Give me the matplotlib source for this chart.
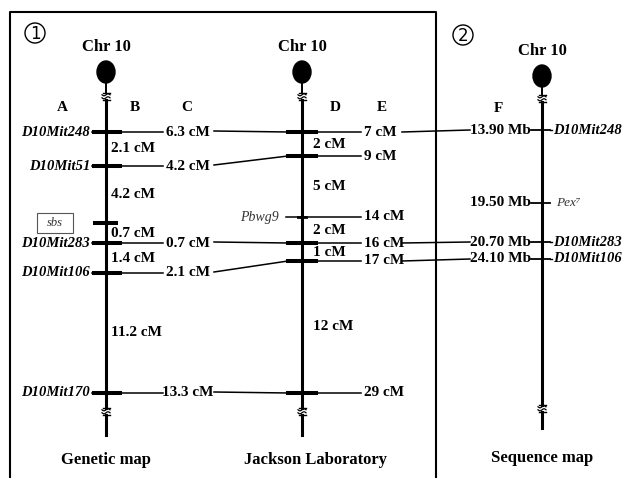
import matplotlib.pyplot as plt
from matplotlib.patches import Ellipse, Circle, Rectangle
import numpy as np

# genetic map (A = marker, B = interval, C = distance used for Jackson link)
genetic_markers = ["D10Mit248", "D10Mit51", "sbs", "D10Mit283", "D10Mit106", "D10Mit170"]
genetic_intervals = [2.1, 4.2, 0.7, 1.4, 11.2]
genetic_link_cm = [6.3, 4.2, None, 0.7, 2.1, 13.3]

# Jackson Laboratory map (D = interval, E = position)
jax_markers = ["D10Mit248", "D10Mit51", "Pbwg9", "D10Mit283", "D10Mit106", "D10Mit170"]
jax_cm = [7, 9, 14, 16, 17, 29]

# sequence map (F = position)
seq_markers = ["D10Mit248", "Pex⁷", "D10Mit283", "D10Mit106"]
seq_mb = [13.90, 19.50, 20.70, 24.10]

# schematic layout (pixel rows / columns)
genetic_rows = [132, 166, 223, 243, 273, 393]
jax_rows = [132, 156, 217, 243, 261, 393]
seq_rows = [130, 203, 242, 259]
x_gen, x_jax, x_seq = 106, 302, 542

FONT = ["Liberation Serif", "DejaVu Serif"]
plt.rcParams["font.family"] = FONT

fig = plt.figure(figsize=(6.24, 4.78), dpi=100)
ax = fig.add_axes([0, 0, 1, 1])
ax.set_xlim(0, 624)
ax.set_ylim(478, 0)
ax.axis("off")

LW_CHR = 2.2
LW_TICK = 2.9
LW_LINK = 1.1


def draw_break(x, y):
    t = np.linspace(-4, 4, 30)
    ax.plot([x - 3.5, x + 3.5], [y - 3.5, y - 3.5], color="k", lw=1.0)
    for dy in (-1.2, 1.8):
        ax.plot(x + t, y + dy - 1.0 * np.sin(t * np.pi / 4), color="k", lw=0.9)
    ax.plot([x - 3.5, x + 3.5], [y + 4, y + 4], color="k", lw=1.0)


def draw_chromosome(x, top, brk1, brk2, end, title, label, label_y):
    ax.add_patch(Ellipse((x, top), 18, 22, color="k"))
    ax.plot([x, x], [top, brk1 - 3.5], color="k", lw=1.4)
    draw_break(x, brk1)
    ax.plot([x, x], [brk1 + 4, brk2 - 3.5], color="k", lw=LW_CHR)
    draw_break(x, brk2)
    ax.plot([x, x], [brk2 + 4, end], color="k", lw=LW_CHR)
    ax.text(x, top - 25, title, ha="center", va="center", fontsize=12, fontweight="bold")
    ax.text(x + (14 if label.startswith("Jackson") else 0), label_y, label,
            ha="center", va="center", fontsize=12, fontweight="bold")


# frame around panel 1
ax.plot([10, 10, 436, 436], [478, 12, 12, 478], color="k", lw=1.5)
for cx, cy, num in [(35, 33, "1"), (463, 35, "2")]:
    ax.add_patch(Circle((cx, cy), 10, fill=False, lw=1.0, color="k"))
    ax.text(cx, cy + 0.5, num, ha="center", va="center", fontsize=12, family=["DejaVu Sans"])

draw_chromosome(x_gen, 72, 96, 411, 435, "Chr 10", "Genetic map", 460)
draw_chromosome(x_jax, 72, 96, 411, 435, "Chr 10", "Jackson Laboratory", 460)
draw_chromosome(x_seq, 76, 98, 408, 428, "Chr 10", "Sequence map", 458)

# column headers
for x, y, s in [(62, 107, "A"), (135, 107, "B"), (187, 107, "C"),
                (335, 107, "D"), (382, 107, "E"), (498, 108, "F")]:
    ax.text(x, y, s, ha="center", va="center", fontsize=11, fontweight="bold")

# genetic map markers
for name, y, link in zip(genetic_markers, genetic_rows, genetic_link_cm):
    if name == "sbs":
        ax.add_patch(Rectangle((37, y - 10), 36, 20, fill=False, lw=0.8, color="#555"))
        ax.text(55, y, name, ha="center", va="center", fontsize=9, style="italic", color="#333")
        ax.plot([x_gen - 11, x_gen + 10], [y, y], color="k", lw=LW_TICK)
        continue
    ax.text(90, y, name, ha="right", va="center", fontsize=10.5, fontweight="bold", style="italic")
    ax.plot([92, x_gen - 12], [y, y], color="k", lw=LW_LINK)
    ax.plot([x_gen - 12, x_gen + 14], [y, y], color="k", lw=LW_TICK)
    ax.plot([x_gen + 14, 163], [y, y], color="k", lw=LW_LINK)
    ax.text(188, y, f"{link} cM", ha="center", va="center", fontsize=11, fontweight="bold")
    j = jax_markers.index(name)
    ax.plot([214, x_jax - 14], [y - 1, jax_rows[j]], color="k", lw=LW_LINK)

for a, b, v in zip(genetic_rows[:-1], genetic_rows[1:], genetic_intervals):
    ax.text(111, (a + b) / 2, f"{v} cM", ha="left", va="center", fontsize=11, fontweight="bold")

# Jackson markers
for name, y, cm in zip(jax_markers, jax_rows, jax_cm):
    if name == "Pbwg9":
        ax.text(279, y, name, ha="right", va="center", fontsize=10, style="italic", color="#333")
        ax.plot([286, 361], [y, y], color="k", lw=LW_LINK)
        ax.plot([x_jax - 4, x_jax + 4], [y, y], color="k", lw=2.0)
    else:
        ax.plot([x_jax - 14, x_jax + 14], [y, y], color="k", lw=LW_TICK)
        ax.plot([x_jax + 14, 361], [y, y], color="k", lw=LW_LINK)
    ax.text(364, y, f"{cm} cM", ha="left", va="center", fontsize=11, fontweight="bold")
    if name in seq_markers:
        k = seq_markers.index(name)
        ax.plot([402, 470], [y, seq_rows[k]], color="k", lw=LW_LINK)

for a, b, ca, cb in zip(jax_rows[:-1], jax_rows[1:], jax_cm[:-1], jax_cm[1:]):
    ax.text(313, (a + b) / 2, f"{cb - ca} cM", ha="left", va="center", fontsize=11, fontweight="bold")

# sequence markers
for name, y, mb in zip(seq_markers, seq_rows, seq_mb):
    ax.text(531, y, f"{mb:.2f} Mb", ha="right", va="center", fontsize=11, fontweight="bold")
    ax.plot([531, x_seq + 8], [y, y], color="k", lw=1.3)
    if name.startswith("Pex"):
        ax.text(556, y, name, ha="left", va="center", fontsize=9.5, style="italic", color="#333")
    else:
        ax.plot([x_seq + 8, 552], [y, y], color="k", lw=1.0)
        ax.text(553, y, name, ha="left", va="center", fontsize=10.5, fontweight="bold", style="italic")

fig.savefig("out.png", dpi=100)
